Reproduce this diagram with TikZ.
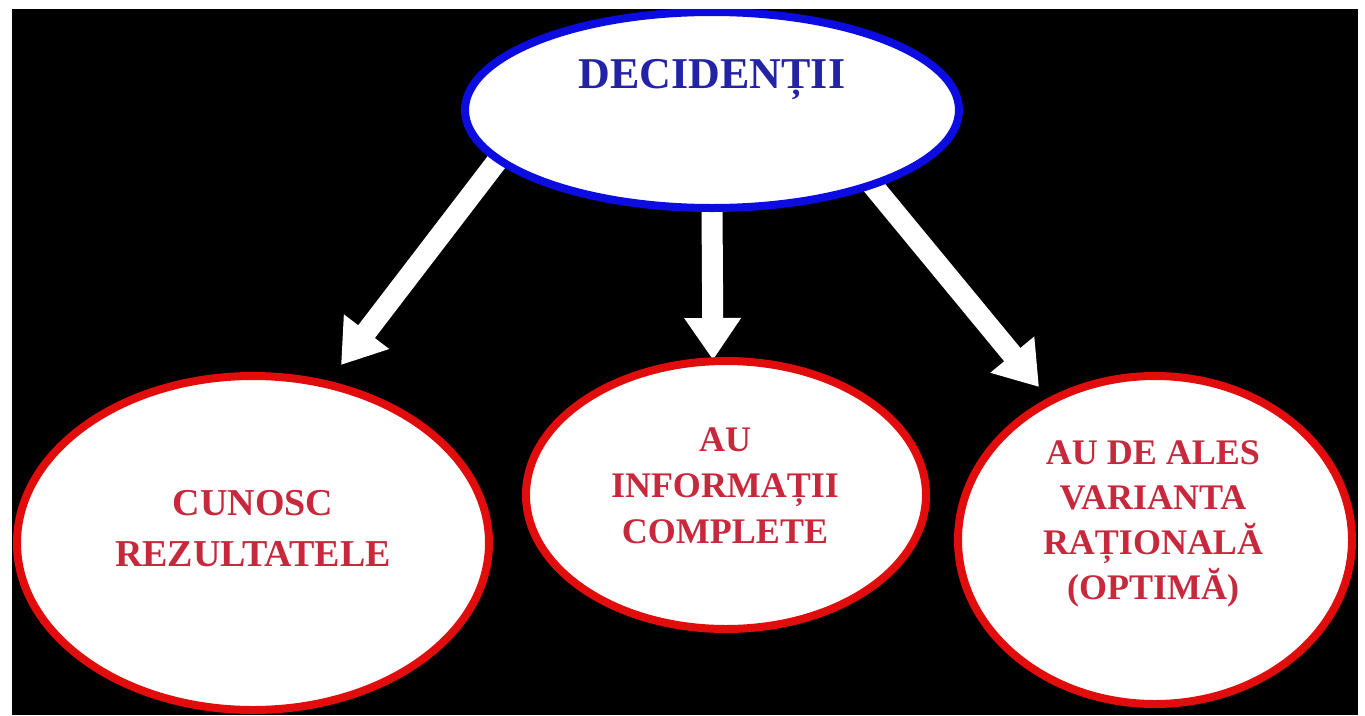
\documentclass[tikz,border=0pt]{standalone}
\usepackage{fontspec}
\setmainfont{Liberation Serif}
\usetikzlibrary{shapes.geometric,arrows.meta}
\pgfdeclarelayer{backdrop}
\pgfdeclarelayer{arrowlayer}
\pgfsetlayers{backdrop,arrowlayer,main}
\definecolor{bordblue}{RGB}{12,12,225}
\definecolor{bordred}{RGB}{225,12,12}
\definecolor{txtblue}{RGB}{35,35,165}
\definecolor{txtred}{RGB}{200,40,60}
\tikzset{
  oval/.style={ellipse, draw, line width=8pt, fill=white, inner sep=0pt, outer sep=0pt},
  topoval/.style={oval, draw=bordblue},
  suboval/.style={oval, draw=bordred},
  toptext/.style={text=txtblue, font=\fontsize{44}{50}\selectfont\bfseries, inner sep=0pt},
  subtext/.style={text=txtred, align=center, inner sep=0pt},
  bigarrow/.style={draw=white, line width=21pt, -{Triangle[length=42pt,width=54pt]}}
}
\begin{document}
\begin{tikzpicture}[x=1pt,y=-1pt]
\useasboundingbox (0,0) rectangle (1365,715);
\begin{pgfonlayer}{backdrop}
\fill[white] (0,0) rectangle (1365,715);
\fill[black] (12,9) rectangle (1358,715);
\end{pgfonlayer}
\begin{scope}
\clip (12,9) rectangle (1358,715);
% nodes
\node[topoval, minimum width=494pt, minimum height=196pt] (top) at (712,110) {};
\node[suboval, minimum width=472pt, minimum height=334pt] (left) at (253,543) {};
\node[suboval, minimum width=400pt, minimum height=268pt] (mid) at (726,495) {};
\node[suboval, minimum width=394pt, minimum height=328pt] (right) at (1155,540) {};
% end points of arrows
\coordinate (e1) at (341,365);
\coordinate (e2) at (713,360);
\coordinate (e3) at (1039,387);
% arrows, behind the ellipses
\begin{pgfonlayer}{arrowlayer}
\draw[bigarrow] (top.193) -- (e1);
\draw[bigarrow] (top.south) -- (e2);
\draw[bigarrow] (top.-25.4) -- (e3);
\end{pgfonlayer}
% texts
\node[toptext] (ttop) at (712,80) {DECIDENȚII};
\node[subtext, font=\fontsize{38}{51}\selectfont\bfseries] (tleft) at (253,529) {CUNOSC\\REZULTATELE};
\node[subtext, font=\fontsize{36}{46}\selectfont\bfseries] (tmid) at (725,486) {AU\\INFORMAȚII\\COMPLETE};
\node[subtext, font=\fontsize{36}{45}\selectfont\bfseries] (tright) at (1153,524) {AU DE ALES\\VARIANTA\\RAȚIONALĂ\\(OPTIMĂ)};
\end{scope}
\end{tikzpicture}
\end{document}
